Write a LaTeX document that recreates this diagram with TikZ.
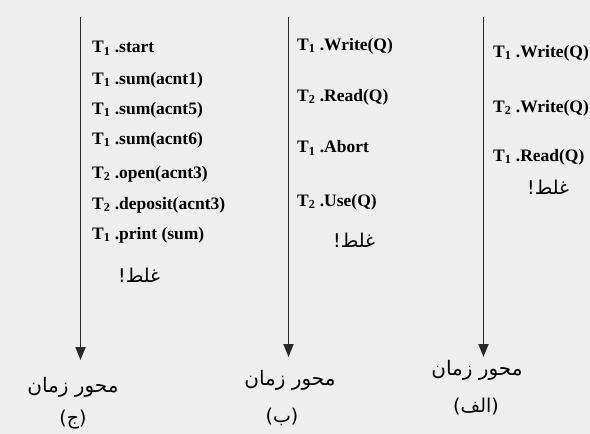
\documentclass[tikz,border=0pt]{standalone}
\usepackage{fontspec}
\setmainfont{Liberation Serif}
\newfontfamily\arabicfont[Script=Arabic]{DejaVu Sans}
\TeXXeTstate=1
\usetikzlibrary{arrows.meta}
\definecolor{bgcol}{RGB}{238,238,238}
\definecolor{axiscol}{RGB}{40,40,40}
\newcommand{\op}[2]{T\textsubscript{#1} .#2}
\begin{document}
\begin{tikzpicture}[x=1pt,y=-1pt,
  timeaxis/.style={draw=axiscol,line width=1.8pt,-{Triangle[length=13pt,width=10pt]}},
  opnode/.style={anchor=west,inner sep=0pt,font=\fontsize{17.5}{20}\selectfont\bfseries},
  errnode/.style={anchor=west,inner sep=0pt,font=\fontsize{19}{21}\arabicfont},
  axislabel/.style={inner sep=0pt,font=\fontsize{20}{22}\arabicfont},
  caption/.style={inner sep=0pt,font=\fontsize{19}{21}\arabicfont}]
\fill[bgcol] (0,0) rectangle (590,434);
\useasboundingbox (0,0) rectangle (590,434);

% (ج) column
\coordinate (cTop) at (80.5,17);
\coordinate (cEnd) at (80.5,360);
\draw[timeaxis] (cTop) -- (cEnd);
\node[axislabel] (cAxis) at (73,387) {\beginR محور زمان\endR};
\node[caption] (cCap) at (73,420) {\beginR (ج)\endR};
\node[opnode] (c1) at (92,48) {\op{1}{start}};
\node[opnode] (c2) at (92,80) {\op{1}{sum(acnt1)}};
\node[opnode] (c3) at (92,110) {\op{1}{sum(acnt5)}};
\node[opnode] (c4) at (92,140) {\op{1}{sum(acnt6)}};
\node[opnode] (c5) at (92,174) {\op{2}{open(acnt3)}};
\node[opnode] (c6) at (92,205) {\op{2}{deposit(acnt3)}};
\node[opnode] (c7) at (92,235) {\op{1}{print (sum)}};
\node[errnode] (cErr) at (118,275) {\beginR غلط!\endR};

% (ب) column
\coordinate (bTop) at (288.5,17);
\coordinate (bEnd) at (288.5,357);
\draw[timeaxis] (bTop) -- (bEnd);
\node[axislabel] (bAxis) at (290,380) {\beginR محور زمان\endR};
\node[caption] (bCap) at (282,417) {\beginR (ب)\endR};
\node[opnode] (b1) at (297,46) {\op{1}{Write(Q)}};
\node[opnode] (b2) at (297,97) {\op{2}{Read(Q)}};
\node[opnode] (b3) at (297,148) {\op{1}{Abort}};
\node[opnode] (b4) at (297,202) {\op{2}{Use(Q)}};
\node[errnode] (bErr) at (333,240) {\beginR غلط!\endR};

% (الف) column
\coordinate (aTop) at (483.5,17);
\coordinate (aEnd) at (483.5,357);
\draw[timeaxis] (aTop) -- (aEnd);
\node[axislabel] (aAxis) at (477,370) {\beginR محور زمان\endR};
\node[caption] (aCap) at (476,407) {\beginR (الف)\endR};
\node[opnode] (a1) at (493,53) {\op{1}{Write(Q)}};
\node[opnode] (a2) at (493,108) {\op{2}{Write(Q)}};
\node[opnode] (a3) at (493,157) {\op{1}{Read(Q)}};
\node[errnode] (aErr) at (527,187) {\beginR غلط!\endR};
\end{tikzpicture}
\end{document}
